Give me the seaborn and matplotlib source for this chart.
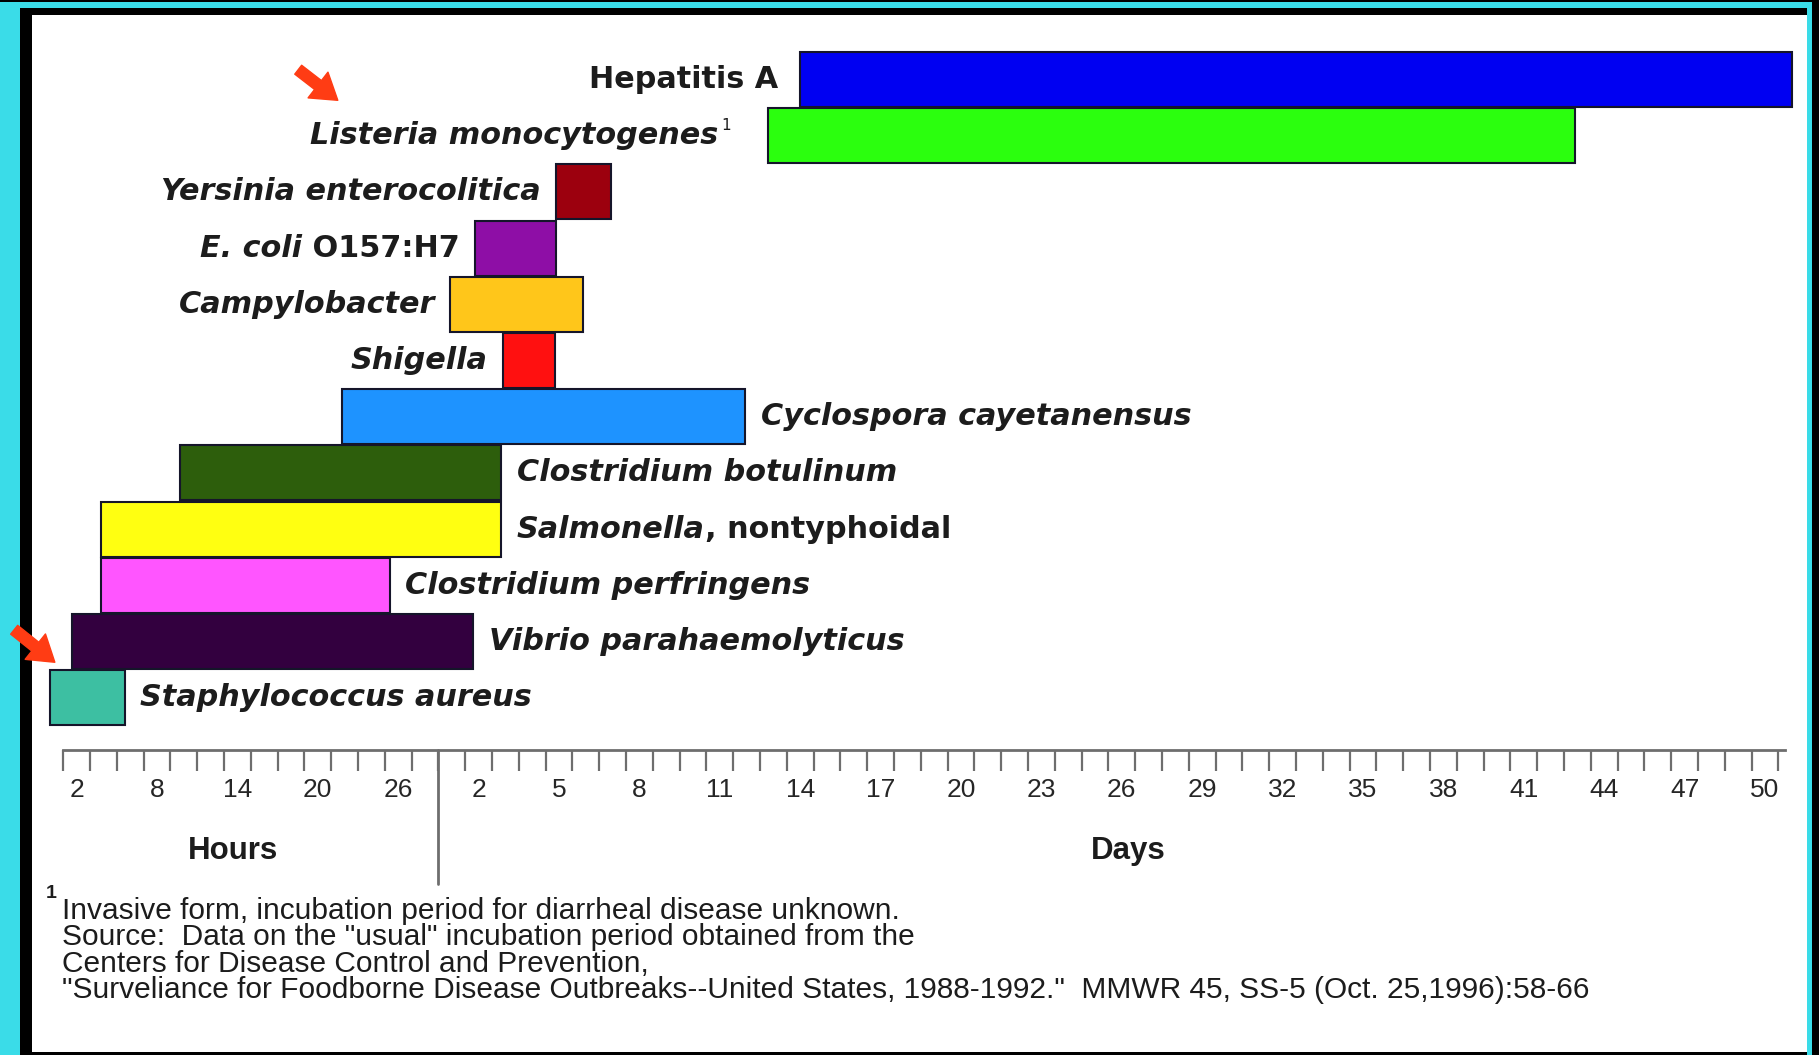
import numpy as np
import pandas as pd
import seaborn as sns
import matplotlib.pyplot as plt
from matplotlib.patches import Rectangle

sns.set_theme(style='white')
plt.rcParams['font.family'] = ['DejaVu Sans']


# Data (usual incubation periods)

pathogens = ['Hepatitis A', 'Listeria monocytogenes', 'Yersinia enterocolitica',
             'E. coli O157:H7', 'Campylobacter', 'Shigella',
             'Cyclospora cayetanensus', 'Clostridium botulinum',
             'Salmonella, nontyphoidal', 'Clostridium perfringens',
             'Vibrio parahaemolyticus', 'Staphylococcus aureus']
start_val = [14, 12.8, 4.9, 1.85, 0.95, 2.9, 21.8, 9.7, 3.8, 3.8, 1.65, 0]
start_unit = ['d', 'd', 'd', 'd', 'd', 'd', 'h', 'h', 'h', 'h', 'h', 'h']
end_val = [51, 42.9, 6.95, 4.9, 5.9, 4.85, 11.95, 2.85, 2.85, 25.4, 1.8, 5.6]
end_unit = ['d', 'd', 'd', 'd', 'd', 'd', 'd', 'd', 'd', 'h', 'd', 'h']

bar_colors = ['#0000f2', '#2bff0e', '#9c000e', '#8e0ea6', '#ffc61a', '#ff1010',
              '#1e93ff', '#2d5e0c', '#ffff11', '#ff55ff', '#33003f', '#3dbfa2']

# label pieces: (text, italic)
label_parts = [
    [('Hepatitis A', False)],
    [('Listeria monocytogenes', True)],
    [('Yersinia enterocolitica', True)],
    [('E. coli', True), (' O157:H7', False)],
    [('Campylobacter', True)],
    [('Shigella', True)],
    [('Cyclospora cayetanensus', True)],
    [('Clostridium botulinum', True)],
    [('Salmonella', True), (', nontyphoidal', False)],
    [('Clostridium perfringens', True)],
    [('Vibrio parahaemolyticus', True)],
    [('Staphylococcus aureus', True)],
]
label_side = ['left'] * 6 + ['right'] * 6
footnoted = 'Listeria monocytogenes'

hour_labels = [2, 8, 14, 20, 26]
day_labels = [2, 5, 8, 11, 14, 17, 20, 23, 26, 29, 32, 35, 38, 41, 44, 47, 50]

footnote = ('Invasive form, incubation period for diarrheal disease unknown.\n'
            'Source:  Data on the "usual" incubation period obtained from the\n'
            'Centers for Disease Control and Prevention,\n'
            '"Surveliance for Foodborne Disease Outbreaks--United States, 1988-1992."  '
            'MMWR 45, SS-5 (Oct. 25,1996):58-66')


# Ruler: hours part then days part (one day takes two hour-steps)

HOURS_END = 28
SPLIT = 29


def to_pos(val, unit):
    return val if unit == 'h' else HOURS_END + 2 * val


df = pd.DataFrame({'pathogen': pathogens, 'color': bar_colors, 'side': label_side})
df['left'] = [to_pos(v, u) for v, u in zip(start_val, start_unit)]
df['right'] = [to_pos(v, u) for v, u in zip(end_val, end_unit)]
df['width'] = df['right'] - df['left']
df['row'] = np.arange(len(df))

W, H = 1819, 1055
CYAN = '#3adce8'
TXT = '#1c1c1c'
RULE = '#6e6e6e'

fig = plt.figure(figsize=(W / 100, H / 100), dpi=100, facecolor=CYAN)

# frame
fig.add_artist(Rectangle((20 / W, 0), 1787 / W, 1 - 8 / H, transform=fig.transFigure,
                         facecolor='black', edgecolor='none', zorder=-10))
fig.add_artist(Rectangle((32 / W, 3 / H), 1775 / W, 1 - 18 / H, transform=fig.transFigure,
                         facecolor='white', edgecolor='none', zorder=-9))
fig.add_artist(Rectangle((1812 / W, 0), 7 / W, 1, transform=fig.transFigure,
                         facecolor='black', edgecolor='none', zorder=-10))
fig.add_artist(Rectangle((0, 1 - 2 / H), 1, 2 / H, transform=fig.transFigure,
                         facecolor='black', edgecolor='none', zorder=-10))

px_per_unit = 13.4
x_lo, x_hi = -1, 131
ax = fig.add_axes([(49.8 + x_lo * px_per_unit) / W, 1 - 750 / H,
                   (x_hi - x_lo) * px_per_unit / W, 735 / H])
ax.set_facecolor('none')

ax.barh(df['row'], df['width'], left=df['left'], height=0.98, color=df['color'],
        edgecolor='#15152a', linewidth=1.5, zorder=3)

ax.set_xlim(x_lo, x_hi)
ax.set_ylim(11.93, -1.148)
ax.set_yticks([])

# bar labels
FS = 21.8
for i, r in df.iterrows():
    parts = label_parts[i]
    gap = 11
    if i == 0:
        gap = 16
    if r['pathogen'] == footnoted:
        gap = 36
    if r['side'] == 'left':
        prev = None
        for text, ital in reversed(parts):
            style = 'italic' if ital else 'normal'
            if prev is None:
                prev = ax.annotate(text, xy=(r['left'], r['row']), xytext=(-gap, 0),
                                   textcoords='offset points', ha='right', va='center',
                                   fontsize=FS, fontweight='bold', fontstyle=style, color=TXT)
                last = prev
            else:
                prev = ax.annotate(text, xy=(0, 0), xycoords=prev, ha='right', va='bottom',
                                   fontsize=FS, fontweight='bold', fontstyle=style, color=TXT)
        if r['pathogen'] == footnoted:
            ax.annotate('1', xy=(1, 1), xycoords=last, xytext=(2, 2),
                        textcoords='offset points', ha='left', va='top',
                        fontsize=11, color=TXT)
    else:
        prev = None
        for text, ital in parts:
            style = 'italic' if ital else 'normal'
            if prev is None:
                prev = ax.annotate(text, xy=(r['right'], r['row']), xytext=(gap, 0),
                                   textcoords='offset points', ha='left', va='center',
                                   fontsize=FS, fontweight='bold', fontstyle=style, color=TXT)
            else:
                prev = ax.annotate(text, xy=(1, 0), xycoords=prev, ha='left', va='bottom',
                                   fontsize=FS, fontweight='bold', fontstyle=style, color=TXT)

# ruler
for s in ['top', 'right', 'left']:
    ax.spines[s].set_visible(False)
ax.spines['bottom'].set_color(RULE)
ax.spines['bottom'].set_linewidth(2)
ax.spines['bottom'].set_bounds(1, 129.5)

ax.set_xticks(np.arange(1, 130, 2))
ax.tick_params(axis='x', which='major', bottom=True, length=15, width=1.6,
               color=RULE, direction='out', labelbottom=False)
label_pos = [to_pos(h, 'h') for h in hour_labels] + [to_pos(d, 'd') for d in day_labels]
label_txt = [str(h) for h in hour_labels] + [str(d) for d in day_labels]
ax.set_xticks(label_pos, labels=label_txt, minor=True)
ax.tick_params(axis='x', which='minor', bottom=True, length=0, pad=20.5,
               labelsize=19, labelcolor='#262626', labelbottom=True)
for t in ax.get_xticklabels(minor=True):
    t.set_family('Liberation Sans')

ax.plot([SPLIT, SPLIT], [11.93, 14.31], color=RULE, lw=2, clip_on=False)
ax.text(13.7, 13.73, 'Hours', ha='center', va='center', fontsize=22.5,
        fontweight='bold', family='Liberation Sans', color=TXT)
ax.text(80.5, 13.73, 'Days', ha='center', va='center', fontsize=22.5,
        fontweight='bold', family='Liberation Sans', color=TXT)

# footnote
fig.text(46 / W, 1 - 894 / H, '1', fontsize=14, fontweight='bold', ha='left',
         va='center', family='Liberation Sans', color=TXT)
fig.text(61.5 / W, 1 - 897 / H, footnote, fontsize=21.5, linespacing=0.93, ha='left',
         va='top', family='Liberation Sans', color=TXT)

# red pointer arrows
arrow_kw = dict(arrowstyle='simple,head_width=1.3,head_length=1.0,tail_width=0.45',
                color='#ff3c14', mutation_scale=18)
ax.annotate('', xy=(340, H - 102), xytext=(296, H - 68), xycoords='figure pixels',
            textcoords='figure pixels', arrowprops=arrow_kw)
ax.annotate('', xy=(57, H - 664), xytext=(12, H - 628), xycoords='figure pixels',
            textcoords='figure pixels', arrowprops=arrow_kw)

fig.savefig('out.png', dpi=100, facecolor=CYAN)
